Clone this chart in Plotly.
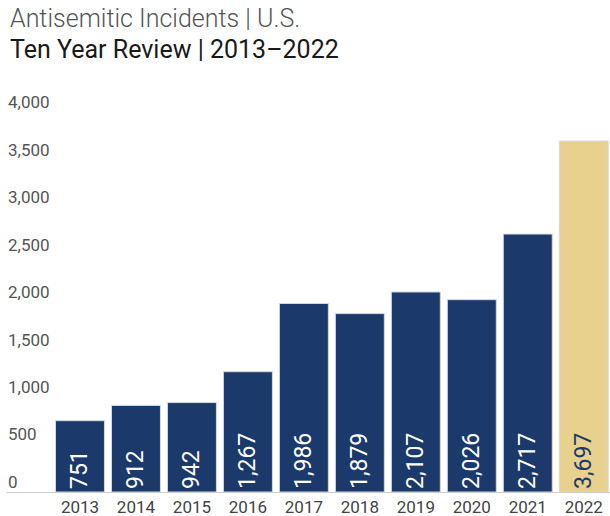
import plotly.graph_objects as go

years = ["2013", "2014", "2015", "2016", "2017", "2018", "2019", "2020", "2021", "2022"]
incidents = [751, 912, 942, 1267, 1986, 1879, 2107, 2026, 2717, 3697]
bar_colors = ["#1b3a6b"] * 9 + ["#e8d18c"]
text_colors = ["#ffffff"] * 9 + ["#1b3a6b"]
y_tickvals = [0, 500, 1000, 1500, 2000, 2500, 3000, 3500, 4000]
y_ticktext = ["0", "500", "1,000", "1,500", "2,000", "2,500", "3,000", "3,500", "4,000"]
title_line1 = "Antisemitic Incidents | U.S."
title_line2 = "Ten Year Review | 2013\u20132022"

fig = go.Figure()
fig.add_trace(go.Bar(
    x=years,
    y=incidents,
    marker=dict(color=bar_colors, line=dict(color="#d6d9df", width=1)),
    text=[f"{v:,}\u00a0" for v in incidents],
    textposition="inside",
    insidetextanchor="start",
    textangle=-90,
    textfont=dict(family="Roboto", size=23, color=text_colors),
    cliponaxis=False,
    hoverinfo="skip",
))

fig.update_layout(
    width=610, height=516,
    margin=dict(l=7, r=0, t=100, b=24),
    paper_bgcolor="white", plot_bgcolor="white",
    bargap=0.125,
    showlegend=False,
    font=dict(family="Roboto", color="#444444"),
    uniformtext=dict(minsize=23, mode="show"),
    xaxis=dict(
        type="category",
        range=[-1.304, 9.469],
        showline=True, linecolor="#cccccc", linewidth=1,
        showgrid=False, ticks="",
        tickfont=dict(family="Roboto", size=17, color="#444444"),
        fixedrange=True,
    ),
    yaxis=dict(
        range=[0, 4129],
        tickvals=y_tickvals, ticktext=y_ticktext,
        ticklabelposition="inside",
        ticklabeloverflow="allow",
        ticklabelshift=-10,
        ticklabelstandoff=-2,
        showgrid=False, zeroline=False, showline=False, ticks="",
        tickfont=dict(family="Roboto", size=17, color="#555555"),
        fixedrange=True,
    ),
    annotations=[
        dict(text=title_line1, xref="paper", yref="paper", x=0.0, y=(392 - (18 - 100)) / 392,
             xanchor="left", yanchor="middle", showarrow=False,
             font=dict(family="Roboto", size=25, color="#555555", weight=300), xshift=1),
        dict(text=title_line2, xref="paper", yref="paper", x=0.0, y=(392 - (50 - 100)) / 392,
             xanchor="left", yanchor="middle", showarrow=False,
             font=dict(family="Roboto", size=25, color="#1a1a1a", weight=400), xshift=1),
    ],
)

fig.write_html(
    "out.html",
    config={"displayModeBar": False},
    post_script="document.body.style.margin='0';document.body.style.overflow='hidden';",
)
